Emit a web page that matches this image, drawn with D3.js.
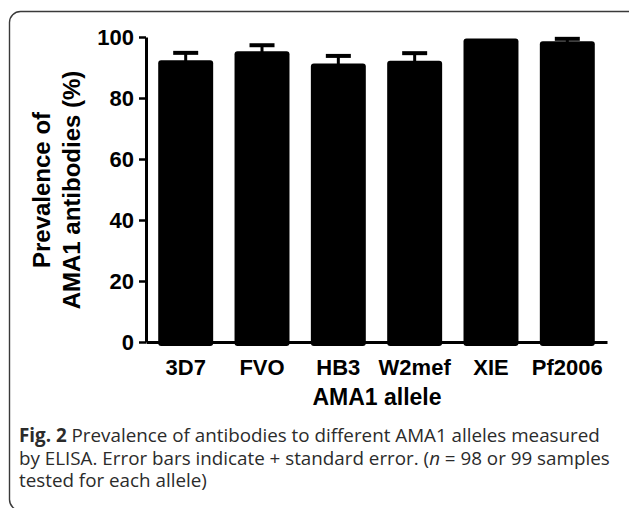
<!DOCTYPE html>
<html>
<head>
<meta charset="utf-8">
<script src="https://cdn.jsdelivr.net/npm/d3@7"></script>
<style>
  body { margin: 0; background: #fff; }
  svg { display: block; }
</style>
</head>
<body>
<svg id="chart" width="629" height="508"></svg>
<script>
// values
var alleles = ["3D7", "FVO", "HB3", "W2mef", "XIE", "Pf2006"];
var prevalence = [92.4, 95.3, 91.3, 92.2, 99.5, 98.6];
var stdErr = [2.4, 2.0, 2.5, 2.5, 0, 0.8];
var yTicks = [0, 20, 40, 60, 80, 100];

var svg = d3.select("#chart");

// rounded frame, cut by the right and bottom edges of the picture
svg.append("rect")
  .attr("x", 9.5).attr("y", 11.5)
  .attr("width", 660).attr("height", 499)
  .attr("rx", 11)
  .attr("fill", "none")
  .attr("stroke", "#3a3a3a")
  .attr("stroke-width", 1.4);

var x = d3.scaleBand()
  .domain(alleles)
  .range([146, 607])
  .paddingInner(0.28)
  .paddingOuter(0.16);

var y = d3.scaleLinear()
  .domain([0, 100])
  .range([342, 37]);

var data = alleles.map(function(a, i) {
  return { name: a, value: prevalence[i], se: stdErr[i] };
});

// bars
svg.append("g").selectAll("rect")
  .data(data)
  .enter()
  .append("rect")
  .attr("x", d => x(d.name))
  .attr("y", d => y(d.value))
  .attr("width", x.bandwidth())
  .attr("height", d => y(0) - y(d.value) + 4)
  .attr("rx", 3)
  .attr("fill", "#000");

// error bars (upper only)
var err = svg.append("g").selectAll("g")
  .data(data.filter(d => d.se > 0))
  .enter()
  .append("g");

err.append("line")
  .attr("x1", d => x(d.name) + x.bandwidth() / 2)
  .attr("x2", d => x(d.name) + x.bandwidth() / 2)
  .attr("y1", d => y(d.value) + 1)
  .attr("y2", d => y(d.value + d.se))
  .attr("stroke", "#000")
  .attr("stroke-width", 3);

err.append("line")
  .attr("x1", d => x(d.name) + x.bandwidth() / 2 - 12.5)
  .attr("x2", d => x(d.name) + x.bandwidth() / 2 + 12.5)
  .attr("y1", d => y(d.value + d.se))
  .attr("y2", d => y(d.value + d.se))
  .attr("stroke", "#000")
  .attr("stroke-width", 4);

// y axis
var yAxis = svg.append("g")
  .attr("transform", "translate(146,0)")
  .call(d3.axisLeft(y).tickValues(yTicks).tickSize(7).tickSizeOuter(0).tickPadding(5));
yAxis.select(".domain").attr("stroke-width", 3);
yAxis.selectAll(".tick line").attr("stroke-width", 2.5);
yAxis.selectAll(".tick text")
  .attr("font-family", "'Liberation Sans', Arial, sans-serif")
  .attr("font-weight", "bold")
  .attr("font-size", 22)
  .attr("fill", "#000");

// x axis (no ticks)
var xAxis = svg.append("g")
  .attr("transform", "translate(0," + y(0) + ")")
  .call(d3.axisBottom(x).tickSize(0).tickPadding(17));
xAxis.select(".domain").attr("stroke-width", 3);
xAxis.selectAll(".tick text")
  .attr("font-family", "'Liberation Sans', Arial, sans-serif")
  .attr("font-weight", "bold")
  .attr("font-size", 22)
  .attr("fill", "#000");

// axis titles
svg.append("text")
  .attr("x", 377).attr("y", 405)
  .attr("text-anchor", "middle")
  .attr("font-family", "'Liberation Sans', Arial, sans-serif")
  .attr("font-weight", "bold")
  .attr("font-size", 23)
  .text("AMA1 allele");

var yTitleLines = ["Prevalence of", "AMA1 antibodies (%)"];
svg.selectAll(".ytitle")
  .data(yTitleLines)
  .enter()
  .append("text")
  .attr("class", "ytitle")
  .attr("transform", (d, i) => "translate(" + (50 + i * 30) + ",190) rotate(-90)")
  .attr("text-anchor", "middle")
  .attr("font-family", "'Liberation Sans', Arial, sans-serif")
  .attr("font-weight", "bold")
  .attr("font-size", 24)
  .text(d => d);

// caption: each line is a list of runs; gap = space before the run
var captionLines = [
  [{ t: "Fig. 2", w: "bold" }, { t: "Prevalence of antibodies to different AMA1 alleles measured", gap: true }],
  [{ t: "by ELISA. Error bars indicate + standard error. (" }, { t: "n", s: "italic" }, { t: "= 98 or 99 samples", gap: true }],
  [{ t: "tested for each allele)" }]
];
var captionY = [442, 465, 487];
var capLeft = 19;

var capG = svg.append("g");

function layCaption(fs) {
  capG.selectAll("*").remove();
  var space = fs * 0.26;
  var widths = [];
  captionLines.forEach(function(runs, li) {
    var cx = capLeft;
    runs.forEach(function(r) {
      if (r.gap) cx += space;
      var t = capG.append("text")
        .attr("x", cx).attr("y", captionY[li])
        .attr("font-family", "'Open Sans', sans-serif")
        .attr("font-size", fs)
        .attr("font-weight", r.w || "normal")
        .attr("font-style", r.s || "normal")
        .attr("fill", "#2b2b2b")
        .text(r.t);
      cx += t.node().getComputedTextLength();
    });
    widths.push(cx - capLeft);
  });
  return widths;
}

// size the caption so its first line ends where the printed one does
var firstW = layCaption(18)[0];
layCaption(18 * 581 / firstW);
</script>
</body>
</html>
